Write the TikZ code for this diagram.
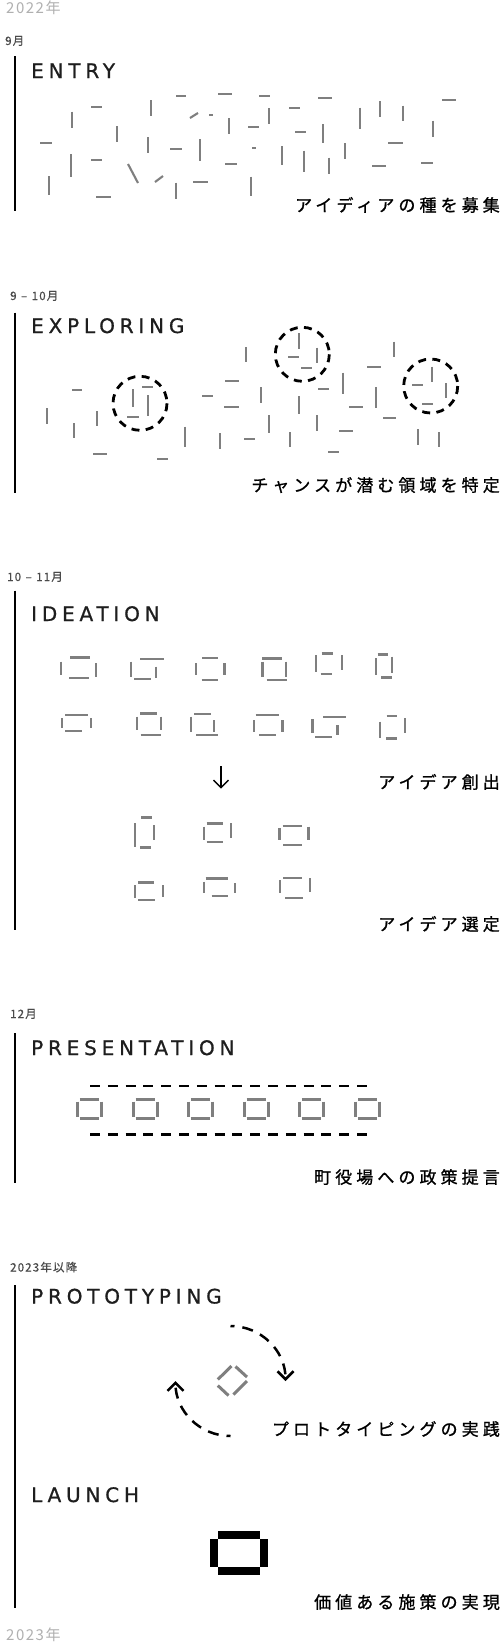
\documentclass[tikz,border=0pt]{standalone}
\usepackage{fontspec}
\usetikzlibrary{arrows.meta}
\newfontfamily\headfont[LetterSpace=24,FakeBold=0.8]{DejaVu Sans}
\newfontfamily\capfont[LetterSpace=24,FakeBold=1]{Noto Sans CJK JP}
\newfontfamily\datefont[LetterSpace=10,FakeBold=0.6]{Noto Sans CJK JP}
\newfontfamily\yearfont[LetterSpace=10]{Noto Sans CJK JP}
\definecolor{seggray}{HTML}{7F7F7F}
\definecolor{headc}{HTML}{1E1E1E}
\definecolor{datec}{HTML}{4A4A4A}
\definecolor{yearc}{HTML}{B0B0B0}
\newcommand\hseg[3]{\draw[seg] (#1,#3) -- (#2,#3);}
\newcommand\vseg[3]{\draw[seg] (#1,#2) -- (#1,#3);}
\newcommand\bh[3]{\draw[bseg] (#1,#3) -- (#2,#3);}
\newcommand\bv[3]{\draw[bseg] (#1,#2) -- (#1,#3);}
\newcommand\dsep{\hspace{4.5pt}–\hspace{4.5pt}}
\tikzset{
  seg/.style={draw=seggray, line width=2.1pt},
  bseg/.style={draw=seggray, line width=2.4pt},
  pseg/.style={draw=seggray, line width=3pt},
  bar/.style={draw=black, line width=2.7pt},
  head/.style={anchor=base west, inner sep=0pt, text=headc, font={\headfont\fontsize{20pt}{24pt}\selectfont}},
  capt/.style={anchor=base east, inner sep=0pt, text=black, font={\capfont\fontsize{17pt}{20pt}\selectfont}},
  datel/.style={anchor=base west, inner sep=0pt, text=datec, font={\datefont\fontsize{11.5pt}{13pt}\selectfont}},
  yearl/.style={anchor=base west, inner sep=0pt, text=yearc, font={\yearfont\fontsize{15pt}{17pt}\selectfont}},
  ring/.style={draw=black, line width=2.8pt, dash pattern=on 8pt off 6.3pt},
  pdash/.style={draw=black, line width=2.7pt, dash pattern=on 10pt off 7.8pt},
  cyc/.style={draw=black, line width=2.5pt, dash pattern=on 11pt off 8pt, dash phase=7pt, -{Straight Barb[length=8pt,width=16pt]}},
}
\begin{document}
\begin{tikzpicture}[x=1pt,y=-1pt]
\useasboundingbox (0,0) rectangle (500,1642);
\fill[white] (0,0) rectangle (500,1642);

% years
\node[yearl] (y2022) at (6,13) {2022年};
\node[yearl] (y2023) at (6,1640) {2023年};

% ===== ENTRY =====
\node[datel] (d1) at (5,45) {9月};
\draw[bar] (15,56) -- (15,211);
\node[head] (h1) at (31,78) {ENTRY};
\hseg{176}{186}{95.7}\hseg{218}{232}{94.3}\hseg{259}{270}{95.7}\hseg{318}{332}{97.7}
\hseg{442}{456}{100.3}\hseg{91}{102}{107}\hseg{289}{300}{108.3}\hseg{248}{259}{127}
\hseg{295}{306}{131.7}\hseg{40}{52}{143.3}\hseg{170}{182}{149}\hseg{388}{403}{142.7}
\hseg{91}{102}{159.7}\hseg{225}{237}{164.3}\hseg{372}{386}{166}\hseg{421}{433}{162.7}
\hseg{193}{208}{182.3}\hseg{96}{111}{197}
\hseg{209}{213}{115}\hseg{252}{256}{148}
\draw[seg] (190,118) -- (198,113);
\draw[seg] (128,164) -- (138,183);
\draw[seg] (155,182) -- (163,176);
\vseg{72.3}{111.7}{127.7}\vseg{150.7}{100}{115.7}\vseg{117}{126}{141.7}\vseg{147.7}{137}{152.7}
\vseg{70.7}{154}{176.7}\vseg{49.3}{176}{195}\vseg{229.3}{118.3}{134.3}\vseg{268.7}{108.3}{124}
\vseg{200}{139.3}{161}\vseg{175.7}{182.7}{199.3}\vseg{251.3}{176.7}{195.7}\vseg{281.7}{146}{165}
\vseg{304}{150.7}{172.3}\vseg{323.3}{124}{142.7}\vseg{329}{157.7}{174}\vseg{345.3}{143.3}{159.3}
\vseg{360}{107.7}{129.3}\vseg{380}{101}{116.7}\vseg{403.3}{105.7}{121}\vseg{432.7}{120.7}{136.7}
\node[capt] (c1) at (500,211.5) {アイディアの種を募集};

% ===== EXPLORING =====
\node[datel] (d2) at (10,300) {9\dsep10月};
\draw[bar] (15,312.7) -- (15,493.3);
\node[head] (h2) at (31,333) {EXPLORING};
\hseg{72}{82}{390.3}\hseg{142}{153}{387.3}\hseg{127}{139}{416.7}\hseg{93}{107}{453.7}
\hseg{157}{168}{459}\hseg{202}{213}{396}\hseg{225}{239}{381}\hseg{224}{239}{407.3}
\hseg{244}{255}{439.3}\hseg{288}{299}{357.3}\hseg{301}{312}{368}\hseg{318}{329}{389}
\hseg{367}{381}{366.7}\hseg{349}{363}{406.7}\hseg{383}{396}{418.3}\hseg{339}{353}{431}
\hseg{328}{339}{451.7}\hseg{412}{423}{385}\hseg{422}{433}{403.7}
\vseg{47.3}{408.3}{424}\vseg{74.3}{423.3}{438.3}\vseg{96.7}{411}{426}\vseg{132.7}{389}{406.7}
\vseg{148.3}{395}{416}\vseg{185.3}{426.7}{447.3}\vseg{220}{433.3}{449}\vseg{245.7}{347.3}{362.3}
\vseg{261.3}{387.3}{402.7}\vseg{269.3}{415}{433.3}\vseg{290.3}{432.3}{447.3}\vseg{299}{396}{414}
\vseg{299.3}{333.3}{349}\vseg{316.7}{347.7}{363.3}\vseg{316.7}{415}{430.7}\vseg{343.3}{372.7}{394}
\vseg{375.7}{387.3}{408.3}\vseg{394.3}{341.7}{357.3}\vseg{418.3}{429.3}{445}\vseg{439.3}{432.3}{447.3}
\vseg{432.3}{366.7}{382.3}\vseg{446}{383.3}{398.3}
\draw[ring] (140,403.3) circle[radius=27];
\draw[ring] (302.3,354.3) circle[radius=27];
\draw[ring] (430.7,386) circle[radius=27];
\node[capt] (c2) at (500,491.5) {チャンスが潜む領域を特定};

% ===== IDEATION =====
\node[datel] (d3) at (7,581) {10\dsep11月};
\draw[bar] (15,590.7) -- (15,930);
\node[head] (h3) at (31,621) {IDEATION};
% row 1
\bh{70}{90}{657.3}\bh{69}{89}{677.7}\bv{61}{661.7}{675}\bv{95.7}{663.3}{676.7}
\bh{140}{164.3}{659}\bh{134}{150.7}{679}\bv{131}{661.7}{676.7}\bv{156}{666.7}{677.7}
\bh{202}{218}{657.7}\bh{201.7}{218.3}{680}\bv{196}{663.3}{675}\bv{224.3}{663.3}{675}
\bh{262}{282}{658.3}\bh{266.7}{286.7}{680}\bv{262.3}{661.7}{676.7}\bv{285.7}{661.7}{676.7}
\bh{321.7}{333.3}{653.3}\bh{320.7}{331.7}{674}\bv{316}{655}{671.7}\bv{341.7}{655}{670}
\bh{377.7}{388.3}{654.3}\bh{381}{391.7}{677.3}\bv{375.7}{658.3}{675}\bv{391.7}{656.7}{673.3}
% row 2
\bh{65}{88.3}{715}\bh{65}{81.7}{730.7}\bv{61.7}{718.3}{728.3}\bv{90.7}{718.3}{728.3}
\bh{140}{156.7}{713.3}\bh{140.7}{161}{735}\bv{136.7}{716.7}{730}\bv{160.7}{716.7}{730}
\bh{194.3}{210.7}{714}\bh{196}{218.3}{735}\bv{191}{716.7}{731.7}\bv{214}{720}{731.7}
\bh{255.7}{279}{715}\bh{259.3}{275.7}{735}\bv{254}{720}{731.7}\bv{282.3}{720}{731.7}
\bh{323.3}{345.7}{716.7}\bh{315}{331.7}{736.7}\bv{312.3}{719.3}{733.3}\bv{337.3}{725}{735}
\bh{386.7}{397.3}{715.7}\bh{386}{397.3}{738.3}\bv{380}{721.7}{738.3}\bv{405}{718.3}{733.3}
% arrow
\coordinate (arrtop) at (221,766);
\coordinate (arrbot) at (221,788.5);
\draw[line width=1.3pt, -{Straight Barb[length=7.5pt,width=15pt]}] (arrtop) -- (arrbot);
\node[capt] (c3) at (500,788.5) {アイデア創出};
% row 3
\bh{141}{151.7}{817.3}\bh{140}{150.7}{847.3}\bv{135}{823.3}{846.7}\bv{154}{825}{840}
\bh{206.7}{223.3}{823.3}\bh{206.7}{222.7}{841.7}\bv{204}{826.7}{840}\bv{231}{823.3}{838.3}
\bh{282.7}{301.7}{825.7}\bh{283.3}{302.3}{845}\bv{279.3}{828.3}{840}\bv{308.3}{826.7}{840}
% row 4
\bh{138.3}{154.3}{882.3}\bh{138.3}{155}{900}\bv{135}{885}{898.3}\bv{162.7}{885}{896.7}
\bh{205.7}{228.3}{878.3}\bh{211.7}{228.3}{896}\bv{204}{881.7}{893.3}\bv{235}{883.3}{893.3}
\bh{283.3}{301.7}{877.7}\bh{285}{303.3}{897.7}\bv{280}{880}{893.3}\bv{310}{878.3}{891.7}
\node[capt] (c4) at (500,930.5) {アイデア選定};

% ===== PRESENTATION =====
\node[datel] (d4) at (10,1018) {12月};
\draw[bar] (15,1033.3) -- (15,1182.7);
\node[head] (h4) at (31,1055) {PRESENTATION};
\draw[pdash] (90,1086) -- (368,1086);
\draw[pdash] (90,1134.3) -- (368,1134.3);
\foreach \cx in {89.3,145,200.3,256,311.3,367.7}{
  \draw[pseg] (\cx-9.5,1099.8) -- (\cx+9.5,1099.8);
  \draw[pseg] (\cx-9.5,1118.5) -- (\cx+9.5,1118.5);
  \draw[pseg] (\cx-12,1101.5) -- (\cx-12,1116.8);
  \draw[pseg] (\cx+12,1101.5) -- (\cx+12,1116.8);
}
\node[capt] (c5) at (500,1183.5) {町役場への政策提言};

% ===== PROTOTYPING / LAUNCH =====
\node[datel] (d5) at (10,1271.5) {2023年以降};
\draw[bar] (15,1285) -- (15,1608.3);
\node[head] (h5) at (31,1303.5) {PROTOTYPING};
\draw[pseg] (217.8,1379.5) -- (231.5,1366);
\draw[pseg] (235.5,1366.5) -- (247,1377);
\draw[pseg] (247,1381) -- (233.5,1394.5);
\draw[pseg] (217.8,1385.5) -- (228.5,1395.5);
\draw[cyc] (230.5,1326) arc[start angle=-90, end angle=0, radius=55];
\draw[cyc] (230.5,1436) arc[start angle=90, end angle=180, radius=55];
\node[capt] (c6) at (500,1435.5) {プロトタイピングの実践};
\node[head] (h6) at (31,1502) {LAUNCH};
\fill[black] (218.3,1531) rectangle (260,1539);
\fill[black] (218.3,1567.3) rectangle (260,1575);
\fill[black] (210,1539) rectangle (218.3,1567.3);
\fill[black] (260,1539) rectangle (268.3,1567.3);
\node[capt] (c7) at (500,1608.5) {価値ある施策の実現};
\end{tikzpicture}
\end{document}
